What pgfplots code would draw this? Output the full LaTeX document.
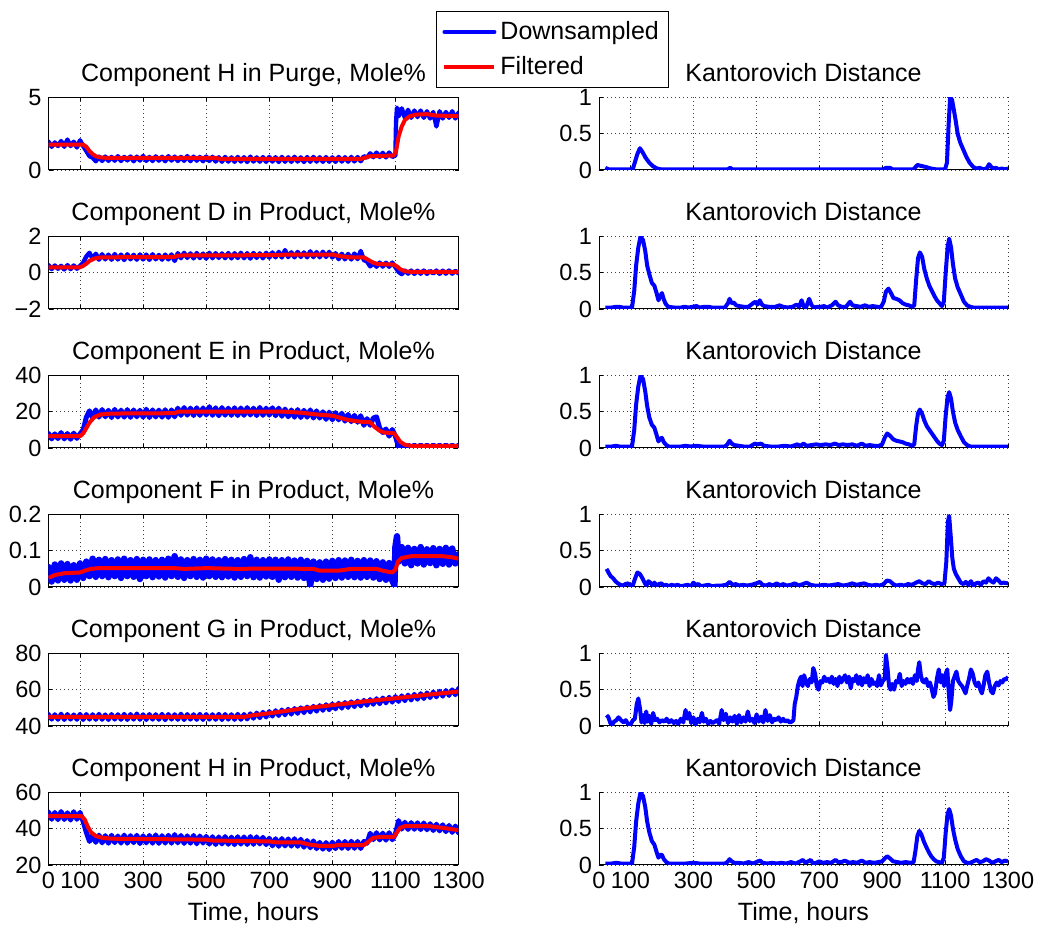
\documentclass[border=0pt]{standalone}
\usepackage{fontspec}
\setmainfont{Liberation Sans}
\usepackage{pgfplots}
\pgfplotsset{compat=1.18}
\newcommand{\titlefont}{\fontsize{12.5}{15}\selectfont}
\newcommand{\tickfont}{\fontsize{11.75}{14}\selectfont}
\definecolor{mblue}{rgb}{0,0,1}
\definecolor{mred}{rgb}{1,0,0}
\pgfplotsset{
  base/.style={
    scale only axis, anchor=south west,
    height=36.25pt,
    xmin=0, xmax=1300,
    xtick={0,100,300,500,700,900,1100,1300},
    /pgf/number format/assume math mode=true,
    /pgf/number format/1000 sep={},
    grid=major,
    major grid style={black!75, line width=0.45pt, dash pattern=on 0.5pt off 1.5pt},
    tick align=inside, major tick length=2pt,
    every tick/.style={black, line width=0.4pt},
    axis line style={black, line width=0.5pt},
    title style={font=\titlefont, at={(0.5,1)}, anchor=base, yshift=2pt, inner sep=0pt},
    tick label style={font=\tickfont},
    xlabel style={font=\titlefont},
    clip=true,
  },
  leftax/.style={base, width=205pt},
  rightax/.style={base, width=204.5pt, axis x line*=bottom, axis y line*=left,
     axis line style={-}, ymin=0, ymax=1, ytick={0,0.5,1}, yticklabels={0,0.5,1},
     title={Kantorovich Distance}},
  nolab/.style={xticklabels={}},
  noisy/.style={mblue, line width=#1, line join=round, line cap=round},
  noisy/.default=2.5pt,
  filt/.style={mred, line width=2pt, line join=round},
  kd/.style={mblue, line width=2pt, line join=round},
}
\begin{document}
\begin{tikzpicture}
\useasboundingbox (0,0) rectangle (520.5pt,462.5pt);
% ---------------- Row 1 left
\begin{axis}[leftax, nolab, at={(24.25pt,377.5pt)}, ymin=0, ymax=5, ytick={0,5},
  title={Component H in Purge, Mole\%},
  legend style={at={(axis description cs:0.945,2.195)}, anchor=north west, draw=black, line width=0.5pt, fill=white, font=\titlefont, inner xsep=3pt, inner ysep=3pt, row sep=3pt, cells={anchor=west}},
  legend image code/.code={\draw[#1, line width=2pt] (0pt,0pt) -- (25pt,0pt);}]
\addplot[noisy=2.2pt] coordinates {(0,1.95)(10,1.6)(20,1.9)(30,1.65)(40,2.0)(50,1.6)(60,2.1)(70,1.65)(80,1.95)(90,1.55)(100,2.05)(110,1.65)(120,1.3)(130,0.95)(140,0.85)(150,0.6)(160,0.92)(170,0.62)(180,0.93)(190,0.63)(200,0.9)(210,0.64)(220,0.95)(230,0.62)(240,0.9)(250,0.66)(260,0.93)(270,0.6)(280,0.92)(290,0.65)(300,0.97)(310,0.63)(320,0.9)(330,0.62)(340,0.94)(350,0.64)(360,0.91)(370,0.6)(380,0.95)(390,0.65)(400,0.92)(410,0.62)(420,0.9)(430,0.63)(440,0.96)(450,0.61)(460,0.92)(470,0.64)(480,0.9)(490,0.6)(500,0.93)(510,0.62)(520,0.91)(530,0.58)(540,0.88)(550,0.57)(560,0.9)(570,0.58)(580,0.87)(590,0.56)(600,0.9)(610,0.58)(620,0.88)(630,0.55)(640,0.92)(650,0.58)(660,0.87)(670,0.57)(680,0.89)(690,0.56)(700,0.9)(710,0.58)(720,0.88)(730,0.55)(740,0.9)(750,0.57)(760,0.88)(770,0.56)(780,0.91)(790,0.58)(800,0.87)(810,0.55)(820,0.89)(830,0.57)(840,0.9)(850,0.58)(860,0.88)(870,0.56)(880,0.89)(890,0.57)(900,0.87)(910,0.56)(920,0.9)(930,0.58)(940,0.88)(950,0.57)(960,0.9)(970,0.59)(980,0.89)(990,0.6)(1000,0.95)(1010,0.85)(1020,1.15)(1030,0.88)(1040,1.2)(1050,0.9)(1060,1.18)(1070,0.87)(1080,1.2)(1090,0.9)(1100,1.0)(1102,3.3)(1105,4.3)(1110,3.7)(1120,4.25)(1130,3.6)(1140,4.15)(1150,3.6)(1160,4.1)(1170,3.65)(1180,4.1)(1190,3.6)(1200,4.05)(1210,3.55)(1220,4.0)(1230,3.0)(1240,4.05)(1250,3.55)(1260,4.0)(1270,3.6)(1280,4.05)(1290,3.55)(1300,3.95)};
\addlegendentry{Downsampled}
\addplot[filt] coordinates {(0,1.75)(110,1.75)(120,1.6)(130,1.3)(140,1.1)(150,0.95)(160,0.88)(180,0.84)(530,0.84)(545,0.76)(990,0.76)(1005,0.86)(1020,0.95)(1095,1.0)(1102,1.3)(1110,2.3)(1120,3.0)(1130,3.45)(1145,3.7)(1165,3.82)(1200,3.85)(1230,3.75)(1300,3.72)};
\addlegendentry{Filtered}
\end{axis}
% ---------------- Row 2 left
\begin{axis}[leftax, nolab, at={(24.25pt,308pt)}, ymin=-2, ymax=2, ytick={-2,0,2}, yticklabels={−2,0,2},
  title={Component D in Product, Mole\%}]
\addplot[noisy=2.2pt] coordinates {(0,0.42)(10,0.2)(20,0.4)(30,0.22)(40,0.38)(50,0.18)(60,0.42)(70,0.2)(80,0.4)(90,0.22)(100,0.38)(110,0.55)(120,0.9)(130,1.1)(140,0.75)(150,1.05)(160,0.72)(170,1.02)(180,0.74)(190,1.0)(200,0.72)(210,1.03)(220,0.73)(230,1.0)(240,0.7)(250,1.02)(260,0.74)(270,0.99)(280,0.72)(290,1.01)(300,0.73)(310,1.0)(320,0.71)(330,1.02)(340,0.74)(350,0.98)(360,0.72)(370,1.0)(380,0.73)(390,1.01)(400,0.65)(410,1.08)(420,0.8)(430,1.1)(440,0.82)(450,1.07)(460,0.79)(470,1.09)(480,0.81)(490,1.06)(500,0.78)(510,1.1)(520,0.8)(530,1.08)(540,0.82)(550,1.07)(560,0.8)(570,1.09)(580,0.79)(590,1.08)(600,0.81)(610,1.1)(620,0.8)(630,1.08)(640,0.78)(650,1.09)(660,0.82)(670,1.07)(680,0.8)(690,1.1)(700,0.83)(710,1.12)(720,0.85)(730,1.15)(740,0.84)(750,1.25)(760,0.86)(770,1.13)(780,0.85)(790,1.15)(800,0.87)(810,1.12)(820,0.85)(830,1.18)(840,0.86)(850,1.14)(860,0.85)(870,1.16)(880,0.87)(890,1.15)(900,0.84)(910,1.08)(920,0.75)(930,1.05)(940,0.74)(950,1.04)(960,0.73)(970,1.06)(980,0.75)(990,1.2)(1000,0.7)(1010,0.62)(1020,0.35)(1030,0.55)(1040,0.33)(1050,0.56)(1060,0.34)(1070,0.55)(1080,0.33)(1090,0.56)(1100,0.3)(1110,0.05)(1120,-0.08)(1130,0.12)(1140,-0.05)(1150,0.12)(1160,-0.06)(1170,0.11)(1180,-0.05)(1190,0.12)(1200,-0.06)(1210,0.1)(1220,-0.04)(1230,0.12)(1240,-0.06)(1250,0.11)(1260,-0.05)(1270,0.12)(1280,-0.05)(1290,0.1)(1300,-0.03)};
\addplot[filt] coordinates {(0,0.3)(100,0.3)(110,0.38)(120,0.5)(130,0.65)(145,0.78)(165,0.85)(400,0.87)(410,0.95)(700,0.97)(760,1.0)(900,1.0)(930,0.9)(960,0.85)(1000,0.85)(1015,0.7)(1030,0.55)(1045,0.48)(1095,0.45)(1105,0.35)(1115,0.2)(1130,0.08)(1150,0.05)(1300,0.05)};
\end{axis}
% ---------------- Row 3 left
\begin{axis}[leftax, nolab, at={(24.25pt,238.5pt)}, ymin=0, ymax=40, ytick={0,20,40},
  title={Component E in Product, Mole\%}]
\addplot[noisy] coordinates {(0,8)(10,5)(20,7.8)(30,5.2)(40,8.5)(50,5)(60,8)(70,4.8)(80,8.2)(90,5.3)(100,7.8)(110,10)(120,17)(130,20.5)(140,16.5)(150,21)(160,17)(170,21.2)(180,17.2)(190,20.8)(200,16.8)(210,21.3)(220,17.1)(230,20.9)(240,17)(250,21.2)(260,16.9)(270,21)(280,17.2)(290,20.8)(300,17)(310,21.4)(320,16.8)(330,21)(340,17.1)(350,20.9)(360,17)(370,21.1)(380,16.9)(390,21)(400,17.2)(410,22)(420,18)(430,22.3)(440,18.1)(450,22)(460,17.9)(470,22.2)(480,18)(490,22.1)(500,18.2)(510,22.8)(520,18)(530,22.2)(540,17.8)(550,22.3)(560,18.1)(570,22)(580,18)(590,22.2)(600,17.9)(610,22.1)(620,18)(630,22.3)(640,18.2)(650,22)(660,17.9)(670,22.4)(680,18)(690,22)(700,18.1)(710,22.2)(720,17.8)(730,22)(740,17.5)(750,21.5)(760,17.2)(770,21)(780,17)(790,21.2)(800,16.8)(810,20.8)(820,17)(830,21)(840,16.5)(850,20.5)(860,16.5)(870,20)(880,15.8)(890,19.8)(900,15.5)(910,19.5)(920,15.5)(930,19.2)(940,14.8)(950,18.5)(960,14.5)(970,18)(980,14.2)(990,17.8)(1000,12.5)(1010,16.2)(1020,12.5)(1030,16.5)(1040,17.2)(1050,11)(1060,8.5)(1070,10.5)(1080,6.5)(1090,10.2)(1100,6.5)(1110,0.5)(1120,1.8)(1130,0.3)(1140,1.6)(1150,0.4)(1160,1.5)(1170,0.3)(1180,1.6)(1190,0.4)(1200,1.5)(1210,0.3)(1220,1.6)(1230,0.4)(1240,1.5)(1250,0.3)(1260,1.6)(1270,0.4)(1280,1.5)(1290,0.3)(1300,1.5)};
\addplot[filt] coordinates {(0,6.5)(100,6.5)(110,8)(120,11)(130,14)(145,17)(165,18.5)(200,19)(400,19.2)(410,20)(750,20)(800,19.5)(850,18.5)(900,17.8)(950,15.5)(990,14.5)(1020,14.2)(1035,11.5)(1050,9.5)(1065,8.5)(1095,8.2)(1105,6)(1115,3.5)(1130,1.8)(1150,1.2)(1300,1.2)};
\end{axis}
% ---------------- Row 4 left
\begin{axis}[leftax, nolab, at={(24.25pt,169pt)}, ymin=0, ymax=0.2, ytick={0,0.1,0.2}, yticklabels={0,0.1,0.2},
  title={Component F in Product, Mole\%}]
\addplot[noisy=3.2pt] coordinates {(0,0.055)(10,0.015)(20,0.062)(30,0.018)(40,0.065)(50,0.02)(60,0.063)(70,0.018)(80,0.06)(90,0.02)(100,0.065)(110,0.025)(120,0.07)(130,0.03)(140,0.078)(150,0.028)(160,0.075)(170,0.03)(180,0.077)(190,0.027)(200,0.074)(210,0.03)(220,0.076)(230,0.025)(240,0.078)(250,0.03)(260,0.074)(270,0.028)(280,0.077)(290,0.022)(300,0.075)(310,0.03)(320,0.076)(330,0.027)(340,0.074)(350,0.029)(360,0.075)(370,0.026)(380,0.078)(390,0.03)(400,0.085)(410,0.028)(420,0.076)(430,0.025)(440,0.074)(450,0.03)(460,0.077)(470,0.028)(480,0.075)(490,0.026)(500,0.078)(510,0.03)(520,0.076)(530,0.028)(540,0.074)(550,0.027)(560,0.077)(570,0.029)(580,0.075)(590,0.026)(600,0.074)(610,0.028)(620,0.077)(630,0.03)(640,0.082)(650,0.027)(660,0.075)(670,0.026)(680,0.074)(690,0.029)(700,0.076)(710,0.028)(720,0.075)(730,0.02)(740,0.074)(750,0.027)(760,0.076)(770,0.028)(780,0.073)(790,0.026)(800,0.075)(810,0.025)(820,0.072)(830,0.005)(840,0.07)(850,0.022)(860,0.068)(870,0.02)(880,0.07)(890,0.023)(900,0.072)(910,0.025)(920,0.074)(930,0.026)(940,0.073)(950,0.028)(960,0.075)(970,0.027)(980,0.072)(990,0.026)(1000,0.074)(1010,0.028)(1020,0.073)(1030,0.026)(1040,0.071)(1050,0.022)(1060,0.068)(1070,0.02)(1080,0.066)(1090,0.018)(1097,0.005)(1100,0.11)(1105,0.14)(1110,0.07)(1120,0.11)(1130,0.065)(1140,0.108)(1150,0.06)(1160,0.105)(1170,0.065)(1180,0.11)(1190,0.062)(1200,0.104)(1210,0.066)(1220,0.107)(1230,0.06)(1240,0.105)(1250,0.064)(1260,0.108)(1270,0.062)(1280,0.106)(1290,0.065)(1300,0.09)};
\addplot[filt] coordinates {(0,0.025)(20,0.033)(50,0.038)(100,0.04)(115,0.045)(135,0.05)(160,0.052)(400,0.052)(430,0.05)(500,0.052)(600,0.05)(700,0.051)(840,0.05)(860,0.045)(920,0.045)(960,0.05)(1040,0.05)(1060,0.045)(1090,0.04)(1100,0.048)(1108,0.07)(1120,0.08)(1150,0.085)(1250,0.085)(1280,0.082)(1300,0.078)};
\end{axis}
% ---------------- Row 5 left
\begin{axis}[leftax, nolab, at={(24.25pt,99.5pt)}, ymin=40, ymax=80, ytick={40,60,80},
  title={Component G in Product, Mole\%}]
\addplot[noisy=2.2pt] coordinates {(0,46.5)(10,43.6)(20,46.4)(30,43.5)(40,46.7)(50,43.4)(60,46.5)(70,43.6)(80,46.3)(90,43.5)(100,46.6)(110,43.4)(120,46.5)(130,43.6)(140,46.4)(150,43.5)(160,46.6)(170,43.5)(180,46.3)(190,43.4)(200,46.5)(210,43.6)(220,46.4)(230,43.5)(240,46.6)(250,43.4)(260,46.5)(270,43.6)(280,46.8)(290,43.5)(300,46.4)(310,43.4)(320,46.5)(330,43.6)(340,46.4)(350,43.5)(360,46.6)(370,43.3)(380,46.5)(390,43.6)(400,46.4)(410,43.5)(420,46.7)(430,43.4)(440,46.5)(450,43.6)(460,46.4)(470,43.5)(480,46.6)(490,43.4)(500,46.5)(510,43.6)(520,46.4)(530,43.5)(540,46.6)(550,43.4)(560,46.5)(570,43.6)(580,46.4)(590,43.5)(600,46.6)(610,43.5)(620,46.5)(630,43.7)(640,46.9)(650,44.1)(660,47.3)(670,44.4)(680,47.7)(690,44.8)(700,48.1)(710,45.3)(720,48.6)(730,45.6)(740,49)(750,46)(760,49.4)(770,46.4)(780,49.8)(790,46.8)(800,50.2)(810,47.2)(820,50.6)(830,47.6)(840,51)(850,48)(860,51.4)(870,48.5)(880,51.9)(890,48.8)(900,52.3)(910,49.3)(920,52.7)(930,49.7)(940,53.1)(950,50.1)(960,53.5)(970,50.5)(980,53.9)(990,50.9)(1000,54.3)(1010,51.3)(1020,54.7)(1030,51.8)(1040,55.2)(1050,52.1)(1060,55.6)(1070,52.6)(1080,56)(1090,53)(1100,56.4)(1110,53.4)(1120,56.8)(1130,53.8)(1140,57.2)(1150,54.2)(1160,57.6)(1170,54.6)(1180,58)(1190,55)(1200,58.4)(1210,55.5)(1220,58.9)(1230,55.9)(1240,59.3)(1250,56.3)(1260,59.7)(1270,56.7)(1280,60.1)(1290,57.1)(1300,60.8)};
\addplot[filt] coordinates {(0,45)(620,45)(650,46)(700,47)(800,49.5)(900,51.5)(1000,53.5)(1100,55.3)(1200,57.2)(1300,59)};
\end{axis}
% ---------------- Row 6 left
\begin{axis}[leftax, at={(24.25pt,30pt)}, ymin=20, ymax=60, ytick={20,40,60},
  title={Component H in Product, Mole\%}, xlabel={Time, hours}]
\addplot[noisy] coordinates {(0,49.2)(10,45.2)(20,49)(30,45)(40,49.5)(50,45.1)(60,48.8)(70,44.8)(80,49.4)(90,45.2)(100,49)(110,44)(120,38)(130,33)(140,36.5)(150,32.5)(160,36.5)(170,32.2)(180,36.2)(190,32)(200,36.4)(210,32.3)(220,36)(230,32.1)(240,36.5)(250,32)(260,36.2)(270,32.3)(280,36.4)(290,31.8)(300,36.1)(310,32.2)(320,36.3)(330,32)(340,36.6)(350,31.9)(360,36.2)(370,32.1)(380,36.4)(390,32)(400,36.8)(410,32.2)(420,36.3)(430,31.9)(440,36.1)(450,32)(460,36.3)(470,31.7)(480,36)(490,32.1)(500,35.8)(510,31.5)(520,35.6)(530,31.3)(540,35.5)(550,31.6)(560,35.7)(570,31.4)(580,35.4)(590,31.2)(600,35.6)(610,31.5)(620,35.5)(630,31.3)(640,35.7)(650,31.4)(660,35.5)(670,31.6)(680,35.3)(690,31.2)(700,34.8)(710,30.5)(720,34.5)(730,30.3)(740,34.6)(750,30.5)(760,34.4)(770,30.4)(780,34.5)(790,30.3)(800,34.2)(810,29.8)(820,33.5)(830,29.5)(840,33.3)(850,29)(860,32.5)(870,28.7)(880,32.4)(890,28.5)(900,32.6)(910,29)(920,33)(930,29.2)(940,33)(950,29.1)(960,33.1)(970,29.2)(980,33)(990,29.1)(1000,33)(1010,32)(1020,37.5)(1030,34)(1040,37.8)(1050,33.8)(1060,37.6)(1070,33.7)(1080,37.8)(1090,33.9)(1100,37)(1110,44.5)(1120,39.8)(1130,43.6)(1140,39.6)(1150,43.4)(1160,39.7)(1170,43.3)(1180,39.5)(1190,43.2)(1200,39.4)(1210,42.8)(1220,39)(1230,42.5)(1240,38.8)(1250,42.2)(1260,38.4)(1270,41.8)(1280,38)(1290,41.5)(1300,37.8)};
\addplot[filt] coordinates {(0,47)(105,47)(115,45)(125,41)(135,38)(150,36)(170,35)(200,34.5)(500,34)(520,33.5)(700,33)(720,32.5)(800,32.5)(820,31.5)(860,30.5)(900,30.5)(920,31)(1000,31)(1015,33)(1030,35)(1050,35.5)(1095,35.5)(1105,38)(1115,40.5)(1130,41.5)(1200,41.5)(1250,40.5)(1300,39.2)};
\end{axis}
% ================= Right column
\begin{axis}[rightax, nolab, at={(299.5pt,377.5pt)}]
\addplot[kd] coordinates {(20,0.03)(30,0.01)(40,0.01)(60,0.01)(80,0.01)(100,0.01)(108,0.02)(115,0.12)(122,0.22)(130,0.3)(138,0.25)(148,0.17)(160,0.1)(172,0.05)(185,0.02)(195,0.01)(300,0.01)(410,0.01)(417,0.03)(424,0.01)(600,0.01)(800,0.01)(905,0.01)(912,0.03)(925,0.03)(932,0.01)(1000,0.01)(1012,0.07)(1020,0.06)(1040,0.04)(1055,0.02)(1070,0.01)(1100,0.01)(1106,0.1)(1111,0.6)(1116,1.0)(1122,0.97)(1127,0.85)(1133,0.7)(1140,0.5)(1148,0.38)(1158,0.28)(1168,0.18)(1178,0.1)(1190,0.04)(1200,0.02)(1210,0.03)(1220,0.01)(1232,0.02)(1240,0.08)(1247,0.04)(1255,0.02)(1262,0.03)(1270,0.01)(1280,0.02)(1290,0.01)(1300,0.02)};
\end{axis}
\begin{axis}[rightax, nolab, at={(299.5pt,308pt)}]
\addplot[kd] coordinates {(20,0.02)(40,0.02)(55,0.03)(65,0.03)(75,0.02)(105,0.02)(112,0.25)(118,0.6)(125,0.85)(132,1.0)(140,0.95)(147,0.8)(153,0.6)(160,0.48)(168,0.36)(176,0.32)(183,0.22)(189,0.12)(195,0.18)(200,0.22)(206,0.13)(212,0.07)(220,0.03)(240,0.02)(260,0.02)(272,0.03)(285,0.02)(298,0.03)(310,0.04)(320,0.02)(335,0.03)(347,0.03)(360,0.02)(375,0.02)(400,0.02)(410,0.08)(415,0.14)(421,0.08)(428,0.09)(436,0.05)(446,0.04)(460,0.03)(475,0.03)(490,0.08)(497,0.1)(504,0.06)(511,0.12)(518,0.06)(525,0.04)(540,0.03)(560,0.03)(574,0.05)(585,0.03)(600,0.02)(615,0.03)(628,0.06)(636,0.03)(644,0.12)(650,0.04)(658,0.02)(668,0.14)(676,0.05)(684,0.02)(695,0.03)(705,0.03)(715,0.04)(725,0.02)(740,0.05)(752,0.1)(760,0.05)(772,0.03)(785,0.03)(798,0.1)(806,0.05)(818,0.04)(832,0.03)(845,0.05)(858,0.03)(870,0.04)(885,0.03)(897,0.03)(905,0.1)(912,0.24)(920,0.28)(928,0.22)(936,0.15)(945,0.14)(955,0.12)(965,0.08)(975,0.06)(985,0.05)(995,0.03)(1002,0.05)(1008,0.4)(1014,0.7)(1020,0.78)(1027,0.72)(1034,0.55)(1042,0.42)(1050,0.32)(1058,0.25)(1066,0.18)(1074,0.12)(1082,0.08)(1090,0.04)(1096,0.1)(1102,0.5)(1108,0.85)(1113,0.97)(1119,0.85)(1125,0.62)(1132,0.42)(1140,0.3)(1150,0.2)(1160,0.1)(1170,0.05)(1180,0.03)(1190,0.02)(1300,0.02)};
\end{axis}
\begin{axis}[rightax, nolab, at={(299.5pt,238.5pt)}]
\addplot[kd] coordinates {(20,0.02)(40,0.02)(55,0.03)(65,0.02)(105,0.02)(112,0.25)(118,0.6)(125,0.85)(132,1.0)(140,0.95)(147,0.78)(153,0.58)(160,0.42)(168,0.32)(176,0.28)(183,0.18)(189,0.09)(195,0.13)(200,0.14)(206,0.08)(214,0.04)(222,0.02)(260,0.02)(275,0.03)(290,0.02)(310,0.03)(330,0.02)(350,0.02)(370,0.02)(400,0.02)(408,0.05)(415,0.1)(422,0.06)(430,0.04)(445,0.03)(460,0.02)(480,0.02)(495,0.06)(505,0.05)(515,0.06)(525,0.03)(545,0.02)(570,0.02)(590,0.03)(610,0.02)(630,0.05)(640,0.03)(650,0.06)(660,0.03)(675,0.04)(690,0.05)(705,0.04)(720,0.05)(735,0.04)(750,0.06)(762,0.04)(775,0.05)(790,0.04)(805,0.05)(820,0.03)(835,0.06)(848,0.03)(860,0.04)(875,0.03)(890,0.03)(900,0.05)(908,0.14)(916,0.2)(925,0.17)(935,0.12)(945,0.1)(955,0.09)(965,0.08)(975,0.06)(985,0.05)(995,0.03)(1002,0.05)(1008,0.3)(1014,0.48)(1020,0.53)(1027,0.47)(1034,0.38)(1042,0.3)(1050,0.25)(1058,0.2)(1066,0.15)(1074,0.1)(1082,0.06)(1090,0.04)(1096,0.1)(1102,0.45)(1108,0.7)(1113,0.77)(1119,0.68)(1125,0.5)(1132,0.35)(1140,0.25)(1150,0.16)(1160,0.08)(1170,0.04)(1180,0.02)(1300,0.02)};
\end{axis}
\begin{axis}[rightax, nolab, at={(299.5pt,169pt)}]
\addplot[kd] coordinates {(24,0.25)(30,0.2)(37,0.15)(45,0.12)(52,0.08)(60,0.05)(68,0.03)(76,0.02)(84,0.04)(92,0.05)(100,0.02)(108,0.03)(115,0.12)(122,0.2)(130,0.18)(138,0.12)(146,0.05)(151,0.02)(157,0.08)(163,0.06)(170,0.02)(176,0.06)(183,0.02)(190,0.04)(198,0.05)(206,0.02)(214,0.03)(222,0.01)(230,0.03)(240,0.02)(250,0.03)(260,0.01)(270,0.02)(282,0.03)(292,0.01)(300,0.06)(308,0.03)(316,0.04)(324,0.01)(335,0.02)(348,0.03)(360,0.01)(375,0.02)(390,0.02)(405,0.03)(415,0.07)(425,0.03)(435,0.04)(445,0.02)(458,0.03)(470,0.02)(485,0.03)(500,0.05)(511,0.07)(520,0.03)(530,0.02)(542,0.04)(552,0.02)(565,0.05)(575,0.02)(585,0.04)(597,0.02)(610,0.03)(622,0.05)(635,0.02)(648,0.04)(660,0.06)(672,0.03)(685,0.02)(700,0.02)(715,0.03)(730,0.02)(745,0.03)(760,0.04)(775,0.02)(790,0.03)(805,0.05)(818,0.03)(830,0.04)(842,0.05)(855,0.03)(868,0.02)(880,0.03)(892,0.02)(905,0.04)(915,0.09)(925,0.08)(935,0.04)(945,0.02)(958,0.03)(970,0.02)(982,0.04)(995,0.03)(1008,0.06)(1018,0.08)(1028,0.05)(1038,0.04)(1048,0.08)(1058,0.05)(1068,0.04)(1078,0.06)(1088,0.04)(1098,0.05)(1104,0.35)(1109,0.9)(1113,0.98)(1118,0.7)(1123,0.4)(1128,0.25)(1134,0.18)(1142,0.12)(1150,0.06)(1158,0.04)(1166,0.07)(1174,0.03)(1182,0.08)(1190,0.02)(1198,0.05)(1206,0.06)(1214,0.03)(1222,0.08)(1230,0.06)(1238,0.12)(1246,0.08)(1254,0.06)(1262,0.12)(1270,0.09)(1278,0.05)(1286,0.06)(1300,0.05)};
\end{axis}
\begin{axis}[rightax, nolab, at={(299.5pt,99.5pt)}]
\addplot[kd] coordinates {(24,0.15)(30,0.12)(36,0.04)(42,0.02)(48,0.06)(55,0.08)(62,0.12)(70,0.08)(78,0.05)(85,0.08)(92,0.03)(100,0.02)(108,0.08)(114,0.1)(120,0.3)(125,0.38)(130,0.25)(135,0.05)(140,0.15)(145,0.04)(150,0.2)(155,0.06)(160,0.14)(166,0.03)(172,0.18)(178,0.08)(185,0.1)(192,0.05)(200,0.08)(208,0.06)(215,0.1)(222,0.05)(230,0.08)(238,0.04)(245,0.07)(252,0.03)(260,0.1)(268,0.05)(275,0.22)(281,0.1)(287,0.18)(293,0.04)(300,0.12)(307,0.02)(314,0.1)(320,0.05)(327,0.18)(333,0.06)(340,0.1)(347,0.03)(354,0.07)(361,0.04)(368,0.06)(375,0.08)(382,0.03)(390,0.22)(396,0.08)(403,0.17)(410,0.04)(417,0.12)(424,0.06)(431,0.14)(438,0.03)(445,0.15)(452,0.05)(459,0.12)(466,0.06)(473,0.2)(480,0.07)(487,0.1)(494,0.04)(501,0.16)(508,0.06)(515,0.13)(522,0.05)(529,0.22)(536,0.07)(543,0.15)(550,0.05)(557,0.1)(564,0.08)(571,0.12)(578,0.06)(585,0.1)(592,0.06)(599,0.08)(606,0.05)(613,0.06)(618,0.08)(622,0.3)(627,0.4)(632,0.55)(637,0.63)(642,0.68)(647,0.55)(652,0.7)(658,0.6)(664,0.55)(670,0.65)(676,0.6)(681,0.8)(687,0.72)(692,0.55)(698,0.5)(704,0.62)(710,0.6)(716,0.68)(722,0.62)(728,0.65)(734,0.6)(740,0.68)(746,0.58)(752,0.65)(758,0.55)(764,0.68)(770,0.6)(776,0.65)(782,0.7)(788,0.6)(794,0.68)(800,0.52)(806,0.65)(812,0.62)(818,0.7)(824,0.58)(830,0.68)(836,0.56)(842,0.66)(848,0.6)(854,0.7)(860,0.55)(866,0.65)(872,0.58)(878,0.6)(884,0.55)(890,0.7)(896,0.56)(902,0.62)(908,0.65)(912,0.98)(917,0.8)(922,0.55)(927,0.5)(932,0.58)(938,0.5)(944,0.62)(950,0.6)(956,0.72)(962,0.55)(968,0.62)(974,0.58)(980,0.65)(986,0.6)(992,0.65)(998,0.58)(1004,0.7)(1010,0.62)(1014,0.78)(1018,0.88)(1023,0.7)(1028,0.62)(1034,0.6)(1040,0.65)(1046,0.55)(1052,0.6)(1058,0.5)(1063,0.4)(1068,0.45)(1074,0.65)(1080,0.78)(1086,0.6)(1091,0.7)(1097,0.55)(1102,0.72)(1107,0.78)(1112,0.45)(1116,0.22)(1120,0.35)(1125,0.62)(1130,0.68)(1136,0.75)(1142,0.62)(1148,0.58)(1154,0.55)(1160,0.5)(1165,0.45)(1170,0.55)(1176,0.65)(1182,0.78)(1188,0.72)(1194,0.6)(1200,0.55)(1206,0.6)(1212,0.5)(1217,0.45)(1222,0.55)(1228,0.7)(1234,0.75)(1240,0.6)(1246,0.48)(1252,0.45)(1258,0.55)(1264,0.6)(1270,0.56)(1276,0.62)(1282,0.6)(1288,0.65)(1294,0.64)(1300,0.68)};
\end{axis}
\begin{axis}[rightax, at={(299.5pt,30pt)}, xlabel={Time, hours}]
\addplot[kd] coordinates {(20,0.02)(40,0.02)(55,0.03)(70,0.02)(105,0.02)(112,0.25)(118,0.6)(125,0.85)(132,1.0)(140,0.95)(147,0.8)(153,0.6)(160,0.45)(168,0.33)(176,0.28)(183,0.18)(189,0.1)(195,0.14)(200,0.14)(206,0.08)(214,0.04)(222,0.02)(260,0.02)(275,0.02)(300,0.03)(320,0.02)(340,0.02)(360,0.02)(380,0.02)(400,0.02)(408,0.04)(415,0.08)(422,0.05)(430,0.03)(445,0.03)(460,0.02)(475,0.04)(490,0.02)(505,0.05)(512,0.06)(520,0.03)(535,0.02)(550,0.03)(565,0.02)(580,0.03)(595,0.02)(610,0.04)(625,0.02)(640,0.05)(648,0.07)(656,0.03)(665,0.05)(673,0.07)(680,0.02)(690,0.03)(700,0.05)(712,0.03)(725,0.04)(738,0.03)(752,0.07)(760,0.04)(770,0.04)(782,0.06)(795,0.03)(808,0.04)(820,0.03)(835,0.06)(848,0.03)(860,0.04)(875,0.03)(888,0.04)(900,0.05)(908,0.09)(916,0.12)(925,0.09)(935,0.05)(948,0.04)(960,0.03)(975,0.04)(990,0.03)(1000,0.04)(1006,0.2)(1012,0.4)(1018,0.47)(1025,0.42)(1032,0.33)(1040,0.25)(1048,0.18)(1056,0.12)(1064,0.08)(1072,0.05)(1080,0.04)(1090,0.03)(1096,0.1)(1102,0.45)(1108,0.7)(1113,0.77)(1119,0.68)(1125,0.5)(1132,0.35)(1140,0.22)(1150,0.12)(1160,0.05)(1170,0.03)(1180,0.03)(1190,0.05)(1200,0.07)(1210,0.04)(1220,0.05)(1230,0.08)(1240,0.06)(1250,0.03)(1260,0.05)(1270,0.07)(1280,0.04)(1290,0.06)(1300,0.05)};
\end{axis}
\end{tikzpicture}
\end{document}
